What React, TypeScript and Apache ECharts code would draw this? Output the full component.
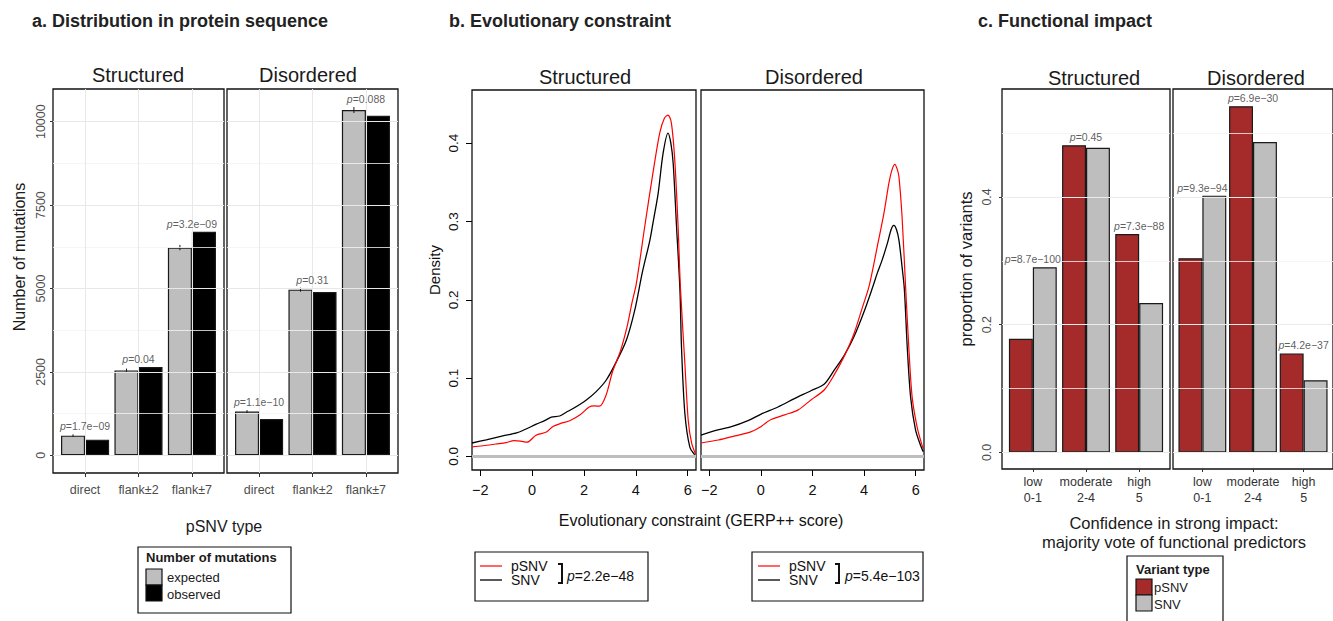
import React, { useEffect, useRef } from "react";
import * as echarts from "echarts";

// ---------- Panel a data ----------
const A_CATS = ["direct", "flank±2", "flank±7"];
const A_STRUCT_EXPECTED = [590, 2545, 6225];
const A_STRUCT_OBSERVED = [470, 2645, 6700];
const A_STRUCT_ERR = [40, 55, 80];
const A_DIS_EXPECTED = [1310, 4965, 10350];
const A_DIS_OBSERVED = [1090, 4895, 10180];
const A_DIS_ERR = [45, 60, 90];
const A_STRUCT_P = ["1.7e−09", "0.04", "3.2e−09"];
const A_DIS_P = ["1.1e−10", "0.31", "0.088"];
const A_Y_TICKS = [0, 2500, 5000, 7500, 10000];
const A_Y_MINOR = [1250, 3750, 6250, 8750];

// ---------- Panel b data (GERP++ score, density) ----------
const B_X_TICKS = [-2, 0, 2, 4, 6];
const B_Y_TICKS = [0, 0.1, 0.2, 0.3, 0.4];
const B_STRUCT_PSNV = [
  [-2.32, 0.012], [-1.9, 0.0135], [-1.4, 0.0157], [-1.0, 0.0175], [-0.7, 0.020], [-0.45, 0.0195],
  [-0.2, 0.018], [0.15, 0.027], [0.55, 0.031], [0.8, 0.038], [1.1, 0.042], [1.45, 0.0455],
  [1.85, 0.053], [2.2, 0.063], [2.4, 0.0645], [2.6, 0.064], [2.85, 0.078], [3.1, 0.108],
  [3.4, 0.134], [3.65, 0.164], [3.85, 0.196], [4.02, 0.221], [4.34, 0.293], [4.66, 0.362],
  [4.92, 0.413], [5.1, 0.432], [5.24, 0.436], [5.37, 0.426], [5.5, 0.379], [5.63, 0.293],
  [5.72, 0.215], [5.89, 0.119], [6.02, 0.046], [6.15, 0.017], [6.3, 0.003],
];
const B_STRUCT_SNV = [
  [-2.32, 0.017], [-1.77, 0.021], [-1.13, 0.026], [-0.6, 0.030], [-0.36, 0.033], [0.16, 0.041],
  [0.5, 0.046], [0.74, 0.050], [1.06, 0.0515], [1.3, 0.056], [1.58, 0.061], [2.09, 0.072],
  [2.48, 0.083], [2.86, 0.0975], [3.25, 0.121], [3.64, 0.149], [3.96, 0.187], [4.25, 0.235],
  [4.54, 0.276], [4.66, 0.298], [4.86, 0.336], [5.05, 0.387], [5.24, 0.413], [5.35, 0.4],
  [5.44, 0.374], [5.57, 0.293], [5.7, 0.213], [5.76, 0.14], [5.89, 0.055], [6.08, 0.012], [6.27, 0.002],
];
const B_DIS_PSNV = [
  [-2.32, 0.017], [-1.65, 0.0208], [-1.01, 0.026], [-0.37, 0.0315], [0.01, 0.038], [0.2, 0.043],
  [0.4, 0.047], [0.92, 0.053], [1.43, 0.059], [1.94, 0.072], [2.46, 0.085], [2.84, 0.104],
  [3.23, 0.128], [3.61, 0.157], [3.94, 0.191], [4.19, 0.217], [4.51, 0.268], [4.77, 0.311],
  [4.96, 0.349], [5.08, 0.366], [5.19, 0.373], [5.29, 0.366], [5.35, 0.357], [5.47, 0.306],
  [5.6, 0.221], [5.73, 0.14], [5.86, 0.076], [6.05, 0.038], [6.24, 0.0145], [6.29, 0.01],
];
const B_DIS_SNV = [
  [-2.32, 0.027], [-1.78, 0.0327], [-1.14, 0.0378], [-0.5, 0.0455], [0.01, 0.054], [0.66, 0.063],
  [1.3, 0.0737], [1.94, 0.0838], [2.46, 0.0924], [2.84, 0.11], [3.23, 0.129], [3.61, 0.153],
  [4.0, 0.185], [4.32, 0.215], [4.51, 0.234], [4.7, 0.251], [4.9, 0.272], [5.05, 0.29],
  [5.15, 0.295], [5.25, 0.29], [5.35, 0.276], [5.47, 0.242], [5.56, 0.213], [5.67, 0.14],
  [5.8, 0.076], [5.99, 0.034], [6.18, 0.0145], [6.29, 0.006],
];
const B_P_STRUCT = "2.2e−48";
const B_P_DIS = "5.4e−103";

// ---------- Panel c data ----------
const C_CATS = ["low\n0-1", "moderate\n2-4", "high\n5"];
const C_STRUCT_PSNV = [0.178, 0.481, 0.342];
const C_STRUCT_SNV = [0.29, 0.477, 0.234];
const C_DIS_PSNV = [0.304, 0.542, 0.155];
const C_DIS_SNV = [0.402, 0.486, 0.113];
const C_STRUCT_P = ["8.7e−100", "0.45", "7.3e−88"];
const C_DIS_P = ["9.3e−94", "6.9e−30", "4.2e−37"];
const C_Y_TICKS = [0, 0.2, 0.4];
const C_Y_MINOR = [0.1, 0.3, 0.5];

const FONT = "'Liberation Sans', Arial, Helvetica, sans-serif";
const GREY = "#bebebe";
const BROWN = "#a52a2a";

function txt(x: number, y: number, text: string, size: number, o: any = {}) {
  const align = o.align || "center";
  return {
    type: "text",
    x,
    y,
    rotation: o.rotation || 0,
    silent: true,
    z: 50,
    style: {
      text,
      fontSize: size,
      fontFamily: FONT,
      fontWeight: o.bold ? "bold" : "normal",
      fill: o.color || "#1a1a1a",
      align,
      verticalAlign: "middle",
      textAlign: align,
      textVerticalAlign: "middle",
      lineHeight: o.lineHeight,
      rich: o.rich,
    },
  };
}

function gridLineSeries(xi: number, yi: number, hVals: number[], vVals: number[], color: string, width: number) {
  return {
    type: "line",
    xAxisIndex: xi,
    yAxisIndex: yi,
    data: [],
    silent: true,
    z: 1,
    markLine: {
      silent: true,
      symbol: ["none", "none"],
      label: { show: false },
      animation: false,
      lineStyle: { color, width, type: "solid" },
      data: [...hVals.map((v) => ({ yAxis: v })), ...vVals.map((v) => ({ xAxis: v }))],
    },
  };
}

function pLabelSeries(xi: number, tops: number[], labels: string[]) {
  const base = { fontSize: 10.5, fontFamily: FONT, color: "#333", textBorderWidth: 0, textBorderColor: "transparent" };
  return {
    type: "scatter",
    xAxisIndex: xi,
    yAxisIndex: xi,
    symbolSize: 1,
    silent: true,
    z: 6,
    itemStyle: { color: "rgba(0,0,0,0)" },
    data: tops.map((t, i) => [i + 1, t]),
    label: {
      show: true,
      position: "top",
      distance: 2,
      ...base,
      formatter: (p: any) => `{i|p}{n|=${labels[p.dataIndex]}}`,
      rich: { i: { ...base, fontStyle: "italic" }, n: { ...base } },
    },
  };
}

function barSeries(xi: number, vals: number[], color: string, width: number) {
  return {
    type: "bar",
    xAxisIndex: xi,
    yAxisIndex: xi,
    data: vals.map((v, i) => [i + 1, v]),
    barWidth: width,
    barGap: "0%",
    z: 2,
    itemStyle: { color, borderColor: "#1a1a1a", borderWidth: 1.2 },
  };
}

function errSeries(xi: number, vals: number[], errs: number[]) {
  return {
    type: "custom",
    xAxisIndex: xi,
    yAxisIndex: xi,
    silent: true,
    z: 4,
    data: vals.map((v, i) => [i + 1, v, errs[i]]),
    renderItem: (_p: any, api: any) => {
      const x = api.value(0), y = api.value(1), e = api.value(2);
      const a = api.coord([x - 0.225, y - e]);
      const b = api.coord([x - 0.225, y + e]);
      return { type: "line", shape: { x1: a[0], y1: a[1], x2: b[0], y2: b[1] }, style: { stroke: "#1a1a1a", lineWidth: 1 } };
    },
  };
}

const NO_LINE = { show: false, onZero: false };

function buildOption() {
  const grids = [
    { left: 53, top: 89, width: 171, height: 384 },
    { left: 227, top: 89, width: 171, height: 384 },
    { left: 472, top: 90, width: 224, height: 380 },
    { left: 701, top: 90, width: 223, height: 380 },
    { left: 1002, top: 89, width: 168, height: 380 },
    { left: 1173, top: 89, width: 168, height: 380 },
  ].map((g) => ({ ...g, show: true, borderColor: "#111", borderWidth: 1.3, backgroundColor: "transparent" }));

  const aX = (gi: number) => ({
    type: "value", gridIndex: gi, min: 0.4, max: 3.6,
    splitLine: { show: false }, axisLine: NO_LINE,
    axisTick: { show: true, customValues: [1, 2, 3], length: 4, lineStyle: { color: "#333" } },
    axisLabel: { customValues: [1, 2, 3], formatter: (v: number) => A_CATS[Math.round(v) - 1], fontSize: 12.5, color: "#4d4d4d", margin: 10, fontFamily: FONT },
  });
  const aY = (gi: number, show: boolean) => ({
    type: "value", gridIndex: gi, min: -530, max: 10980,
    splitLine: { show: false }, axisLine: NO_LINE,
    axisTick: { show, customValues: A_Y_TICKS, length: 3, lineStyle: { color: "#333" } },
    axisLabel: { show, customValues: A_Y_TICKS, formatter: (v: number) => String(v), rotate: 90, fontSize: 12.5, color: "#4d4d4d", margin: 6, fontFamily: FONT },
  });
  const bX = (gi: number) => ({
    type: "value", gridIndex: gi, min: -2.32, max: 6.32,
    splitLine: { show: false }, axisLine: NO_LINE,
    axisTick: { show: true, customValues: B_X_TICKS, length: 6, lineStyle: { color: "#000" } },
    axisLabel: { customValues: B_X_TICKS, formatter: (v: number) => (v < 0 ? "−" + Math.abs(v) : String(v)), fontSize: 14.5, color: "#111", margin: 12, fontFamily: FONT },
  });
  const bY = (gi: number, show: boolean) => ({
    type: "value", gridIndex: gi, min: -0.0175, max: 0.468,
    splitLine: { show: false }, axisLine: NO_LINE,
    axisTick: { show, customValues: B_Y_TICKS, length: 6, lineStyle: { color: "#000" } },
    axisLabel: { show, customValues: B_Y_TICKS, rotate: 90, formatter: (v: number) => v.toFixed(1), fontSize: 13.5, color: "#111", margin: 12, fontFamily: FONT },
  });
  const cX = (gi: number) => ({
    type: "value", gridIndex: gi, min: 0.42, max: 3.58,
    splitLine: { show: false }, axisLine: NO_LINE,
    axisTick: { show: true, customValues: [1, 2, 3], length: 3, lineStyle: { color: "#333" } },
    axisLabel: { customValues: [1, 2, 3], formatter: (v: number) => C_CATS[Math.round(v) - 1], fontSize: 12.5, lineHeight: 16, color: "#333", margin: 5, fontFamily: FONT },
  });
  const cY = (gi: number, show: boolean) => ({
    type: "value", gridIndex: gi, min: -0.026, max: 0.569,
    splitLine: { show: false }, axisLine: NO_LINE,
    axisTick: { show, customValues: C_Y_TICKS, length: 3, lineStyle: { color: "#333" } },
    axisLabel: { show, customValues: C_Y_TICKS, rotate: 90, formatter: (v: number) => v.toFixed(1), fontSize: 12.5, color: "#4d4d4d", margin: 9, fontFamily: FONT },
  });

  const aBarW = (0.45 * 171) / 3.2;
  const cBarW = (0.45 * 168) / 3.16;
  const maxArr = (a: number[], b: number[], e?: number[]) => a.map((v, i) => Math.max(v + (e ? e[i] : 0), b[i]));

  const series: any[] = [
    // panel a
    gridLineSeries(0, 0, A_Y_MINOR, [], "#f4f4f4", 0.8),
    gridLineSeries(0, 0, A_Y_TICKS, [1, 2, 3], "#e8e8e8", 1),
    gridLineSeries(1, 1, A_Y_MINOR, [], "#f4f4f4", 0.8),
    gridLineSeries(1, 1, A_Y_TICKS, [1, 2, 3], "#e8e8e8", 1),
    barSeries(0, A_STRUCT_EXPECTED, GREY, aBarW),
    barSeries(0, A_STRUCT_OBSERVED, "#000", aBarW),
    barSeries(1, A_DIS_EXPECTED, GREY, aBarW),
    barSeries(1, A_DIS_OBSERVED, "#000", aBarW),
    errSeries(0, A_STRUCT_EXPECTED, A_STRUCT_ERR),
    errSeries(1, A_DIS_EXPECTED, A_DIS_ERR),
    pLabelSeries(0, maxArr(A_STRUCT_EXPECTED, A_STRUCT_OBSERVED, A_STRUCT_ERR), A_STRUCT_P),
    pLabelSeries(1, maxArr(A_DIS_EXPECTED, A_DIS_OBSERVED, A_DIS_ERR), A_DIS_P),
    // panel b
    gridLineSeries(2, 2, [0], [], GREY, 3),
    gridLineSeries(3, 3, [0], [], GREY, 3),
    { type: "line", xAxisIndex: 2, yAxisIndex: 2, data: B_STRUCT_SNV, showSymbol: false, smooth: 0.3, z: 3, lineStyle: { color: "#000", width: 1.3 } },
    { type: "line", xAxisIndex: 2, yAxisIndex: 2, data: B_STRUCT_PSNV, showSymbol: false, smooth: 0.3, z: 3, lineStyle: { color: "#ff0000", width: 1.2 } },
    { type: "line", xAxisIndex: 3, yAxisIndex: 3, data: B_DIS_SNV, showSymbol: false, smooth: 0.3, z: 3, lineStyle: { color: "#000", width: 1.3 } },
    { type: "line", xAxisIndex: 3, yAxisIndex: 3, data: B_DIS_PSNV, showSymbol: false, smooth: 0.3, z: 3, lineStyle: { color: "#ff0000", width: 1.2 } },
    // panel c
    gridLineSeries(4, 4, C_Y_MINOR, [], "#f3f3f3", 0.8),
    gridLineSeries(4, 4, C_Y_TICKS, [], "#ebebeb", 1),
    gridLineSeries(5, 5, C_Y_MINOR, [], "#f3f3f3", 0.8),
    gridLineSeries(5, 5, C_Y_TICKS, [], "#ebebeb", 1),
    barSeries(4, C_STRUCT_PSNV, BROWN, cBarW),
    barSeries(4, C_STRUCT_SNV, GREY, cBarW),
    barSeries(5, C_DIS_PSNV, BROWN, cBarW),
    barSeries(5, C_DIS_SNV, GREY, cBarW),
    pLabelSeries(4, maxArr(C_STRUCT_PSNV, C_STRUCT_SNV), C_STRUCT_P),
    pLabelSeries(5, maxArr(C_DIS_PSNV, C_DIS_SNV), C_DIS_P),
  ];

  const italicRich = (size: number) => ({ i: { fontStyle: "italic", fontSize: size, fontFamily: FONT, fill: "#111", color: "#111" } });

  const graphic: any[] = [
    // titles
    txt(32, 21, "a. Distribution in protein sequence", 18, { bold: true, align: "left", color: "#222" }),
    txt(449, 21, "b. Evolutionary constraint", 18, { bold: true, align: "left", color: "#222" }),
    txt(978, 21, "c. Functional impact", 18, { bold: true, align: "left", color: "#222" }),
    // facet labels
    txt(138, 75, "Structured", 20),
    txt(308, 75, "Disordered", 20),
    txt(585, 77, "Structured", 20),
    txt(814, 77, "Disordered", 20),
    txt(1094, 78, "Structured", 20),
    txt(1256, 78, "Disordered", 20),
    // axis titles
    txt(19, 257, "Number of mutations", 16, { rotation: Math.PI / 2 }),
    txt(224, 526, "pSNV type", 16),
    txt(434, 270, "Density", 15, { rotation: Math.PI / 2, color: "#111" }),
    txt(701, 520, "Evolutionary constraint (GERP++ score)", 16, { color: "#111" }),
    txt(966, 269, "proportion of variants", 16.5, { rotation: Math.PI / 2 }),
    txt(1174, 523, "Confidence in strong impact:", 16.5),
    txt(1174, 542, "majority vote of functional predictors", 16.5),
    // legend a
    { type: "rect", shape: { x: 138, y: 547, width: 153, height: 66 }, style: { fill: "#fff", stroke: "#111", lineWidth: 1.2 }, z: 40, silent: true },
    txt(146, 557, "Number of mutations", 13, { bold: true, align: "left" }),
    { type: "rect", shape: { x: 146, y: 569, width: 16, height: 16 }, style: { fill: GREY, stroke: "#111", lineWidth: 1.2 }, z: 45, silent: true },
    { type: "rect", shape: { x: 146, y: 585, width: 16, height: 16 }, style: { fill: "#000", stroke: "#111", lineWidth: 1.2 }, z: 45, silent: true },
    txt(167, 577, "expected", 13, { align: "left" }),
    txt(167, 594, "observed", 13, { align: "left" }),
    // legend b (structured)
    { type: "rect", shape: { x: 475, y: 552, width: 173, height: 49 }, style: { fill: "#fff", stroke: "#111", lineWidth: 1.2 }, z: 40, silent: true },
    { type: "line", shape: { x1: 480, y1: 566, x2: 502, y2: 566 }, style: { stroke: "#ff0000", lineWidth: 1.2 }, z: 45, silent: true },
    { type: "line", shape: { x1: 480, y1: 580, x2: 502, y2: 580 }, style: { stroke: "#000", lineWidth: 1.3 }, z: 45, silent: true },
    txt(511, 566, "pSNV", 14, { align: "left", color: "#111" }),
    txt(511, 580, "SNV", 14, { align: "left", color: "#111" }),
    { type: "polyline", shape: { points: [[558, 564], [562, 564], [562, 583], [558, 583]] }, style: { stroke: "#111", lineWidth: 2, fill: "none" }, z: 45, silent: true },
    txt(567, 576, `{i|p}=${B_P_STRUCT}`, 14, { align: "left", color: "#111", rich: italicRich(14) }),
    // legend b (disordered)
    { type: "rect", shape: { x: 752, y: 552, width: 171, height: 49 }, style: { fill: "#fff", stroke: "#111", lineWidth: 1.2 }, z: 40, silent: true },
    { type: "line", shape: { x1: 758, y1: 566, x2: 780, y2: 566 }, style: { stroke: "#ff0000", lineWidth: 1.2 }, z: 45, silent: true },
    { type: "line", shape: { x1: 758, y1: 580, x2: 780, y2: 580 }, style: { stroke: "#000", lineWidth: 1.3 }, z: 45, silent: true },
    txt(789, 566, "pSNV", 14, { align: "left", color: "#111" }),
    txt(789, 580, "SNV", 14, { align: "left", color: "#111" }),
    { type: "polyline", shape: { points: [[835, 564], [839, 564], [839, 583], [835, 583]] }, style: { stroke: "#111", lineWidth: 2, fill: "none" }, z: 45, silent: true },
    txt(845, 576, `{i|p}=${B_P_DIS}`, 14, { align: "left", color: "#111", rich: italicRich(14) }),
    // legend c
    { type: "rect", shape: { x: 1127, y: 556, width: 96, height: 75 }, style: { fill: "#fff", stroke: "#111", lineWidth: 1.2 }, z: 40, silent: true },
    txt(1136, 569, "Variant type", 13, { bold: true, align: "left" }),
    { type: "rect", shape: { x: 1136, y: 579, width: 16, height: 16 }, style: { fill: BROWN, stroke: "#111", lineWidth: 1.2 }, z: 45, silent: true },
    { type: "rect", shape: { x: 1136, y: 595, width: 16, height: 16 }, style: { fill: GREY, stroke: "#111", lineWidth: 1.2 }, z: 45, silent: true },
    txt(1154, 587, "pSNV", 13, { align: "left" }),
    txt(1154, 604, "SNV", 13, { align: "left" }),
  ];

  return {
    animation: false,
    backgroundColor: "#ffffff",
    textStyle: { fontFamily: FONT },
    grid: grids,
    xAxis: [aX(0), aX(1), bX(2), bX(3), cX(4), cX(5)],
    yAxis: [aY(0, true), aY(1, false), bY(2, true), bY(3, false), cY(4, true), cY(5, false)],
    series,
    graphic,
  };
}

export default function App() {
  const ref = useRef<HTMLDivElement>(null);
  useEffect(() => {
    document.body.style.margin = "0";
    if (!ref.current) return;
    const chart = echarts.init(ref.current, undefined, { renderer: "svg" });
    chart.setOption(buildOption() as any);
    return () => chart.dispose();
  }, []);
  return <div ref={ref} style={{ position: "absolute", left: 0, top: 0, width: 1333, height: 621 }} />;
}
